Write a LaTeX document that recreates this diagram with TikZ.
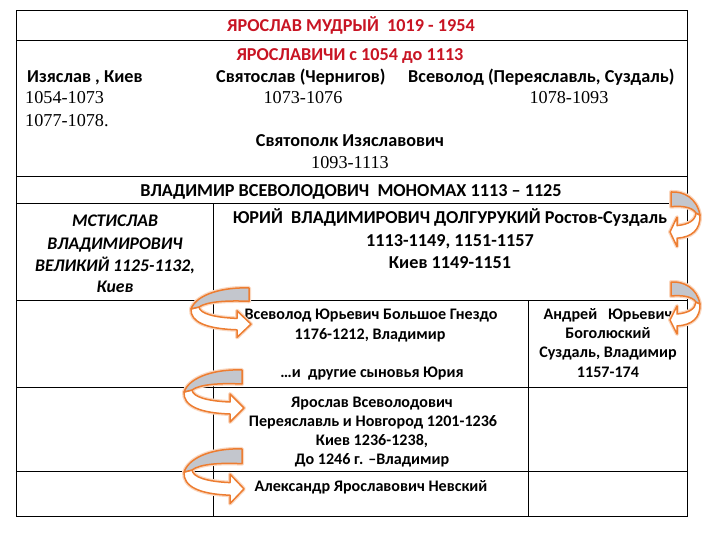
\documentclass[tikz,border=0pt]{standalone}
\usepackage{fontspec}
\setmainfont{Carlito}
\newfontfamily\numfont{Liberation Serif}
\definecolor{titlered}{RGB}{200,20,35}
\definecolor{ribbonorange}{RGB}{237,125,49}
\definecolor{ribbongray}{RGB}{195,198,205}
\begin{document}
\begin{tikzpicture}[x=1pt,y=-1pt]
\useasboundingbox (0,0) rectangle (720,540);
\tikzset{
  grid/.style={line width=1pt, black},
  big/.style={font=\bfseries\fontsize{18.2}{22}\selectfont, inner sep=0pt, anchor=base},
  bigit/.style={font=\bfseries\itshape\fontsize{17.7}{22}\selectfont, inner sep=0pt, anchor=base},
  small/.style={font=\bfseries\fontsize{16.1}{19}\selectfont, inner sep=0pt, anchor=base},
  num/.style={font=\numfont\fontsize{18.2}{22}\selectfont, inner sep=0pt, anchor=base},
  red/.style={text=titlered},
  ribbonglow/.style={draw=ribbonorange!30, line width=4pt, line join=round},
  ribbonline/.style={draw=ribbonorange, line width=1.5pt, line join=round},
  ribbon/.pic={
    \path[ribbonglow] (-58,22) .. controls (-59,36) and (-42,43) .. (-12,44)
      -- (-12,52) -- (2,38) -- (-12,24) -- (-12,32)
      .. controls (-35,31) and (-49,27) .. (-50,20) -- cycle;
    \path[ribbonglow] (0,0) .. controls (-25,-1) and (-52,6) .. (-58,22)
      -- (-50,20) .. controls (-42,14) and (-20,13) .. (0,14) -- cycle;
    \path[ribbonline, fill=white] (-58,22) .. controls (-59,36) and (-42,43) .. (-12,44)
      -- (-12,52) -- (2,38) -- (-12,24) -- (-12,32)
      .. controls (-35,31) and (-49,27) .. (-50,20) -- cycle;
    \path[ribbonline, fill=ribbongray] (0,0) .. controls (-25,-1) and (-52,6) .. (-58,22)
      -- (-50,20) .. controls (-42,14) and (-20,13) .. (0,14) -- cycle;
  }
}
% table
\draw[grid] (16,11) rectangle (687,516);
\draw[grid] (16,41) -- (687,41);
\draw[grid] (16,177) -- (687,177);
\draw[grid] (16,204) -- (687,204);
\draw[grid] (16,300) -- (687,300);
\draw[grid] (16,387) -- (687,387);
\draw[grid] (16,471) -- (687,471);
\draw[grid] (213,204) -- (213,516);
\draw[grid] (528,300) -- (528,516);
% texts
\node[big, red] (title) at (351,31.5) {ЯРОСЛАВ МУДРЫЙ\ \ 1019 - 1954};
\node[big, red] (yaroslavichi) at (350,60.5) {ЯРОСЛАВИЧИ с 1054 до 1113};
\node[big, anchor=base west] (izyaslav) at (27,82.5) {Изяслав , Киев};
\node[num, anchor=base west] (izA) at (25,103.5) {1054-1073};
\node[num, anchor=base west] (izB) at (25,126.5) {1077-1078.};
\node[big, anchor=base west] (svyatoslav) at (216,82.5) {Святослав (Чернигов)};
\node[num] (svA) at (303,103.5) {1073-1076};
\node[big, anchor=base west] (vsevolodA) at (408,82.5) {Всеволод (Переяславль, Суздаль)};
\node[num] (vsA) at (569,103.5) {1078-1093};
\node[big] (svyatopolk) at (350,146.5) {Святополк Изяславович};
\node[num] (spA) at (350,168.5) {1093-1113};
\node[big] (monomakh) at (351,196.5) {ВЛАДИМИР ВСЕВОЛОДОВИЧ\ \ МОНОМАХ 1113 – 1125};
\node[bigit] (mstA) at (115,226.5) {МСТИСЛАВ};
\node[bigit] (mstB) at (115,249.5) {ВЛАДИМИРОВИЧ};
\node[bigit] (mstC) at (115,271.5) {ВЕЛИКИЙ 1125-1132,};
\node[bigit] (mstD) at (115,292.5) {Киев};
\node[big] (yuriA) at (450,224) {ЮРИЙ\ \ ВЛАДИМИРОВИЧ ДОЛГУРУКИЙ Ростов-Суздаль};
\node[big] (yuriB) at (450,246.5) {1113-1149, 1151-1157};
\node[big] (yuriC) at (450,268.5) {Киев 1149-1151};
\node[small] (vsgA) at (371,319) {Всеволод Юрьевич Большое Гнездо};
\node[small] (vsgB) at (370,339) {1176-1212, Владимир};
\node[small] (vsgC) at (372,377) {…и\ \ другие сыновья Юрия};
\node[small] (andA) at (608,319) {Андрей\ \ \ Юрьевич};
\node[small] (andB) at (608,338) {Боголюский};
\node[small] (andC) at (608,357) {Суздаль, Владимир};
\node[small] (andD) at (608,377) {1157-174};
\node[small] (yarA) at (372,407) {Ярослав Всеволодович};
\node[small] (yarB) at (373,426) {Переяславль и Новгород 1201-1236};
\node[small] (yarC) at (372,445) {Киев 1236-1238,};
\node[small] (yarD) at (372,464) {До 1246 г. –Владимир};
\node[small] (alex) at (371,491) {Александр Ярославович Невский};
% ribbon arrows
\pic[xscale=-0.5, yscale=1.05] (arrowA) at (671,192) {ribbon};
\pic[xscale=-0.5] (arrowB) at (671,282) {ribbon};
\pic[yscale=0.95] (arrowC) at (249,288) {ribbon};
\pic (arrowD) at (242,370) {ribbon};
\pic[yscale=1.05] (arrowE) at (242,449) {ribbon};
\end{tikzpicture}
\end{document}
